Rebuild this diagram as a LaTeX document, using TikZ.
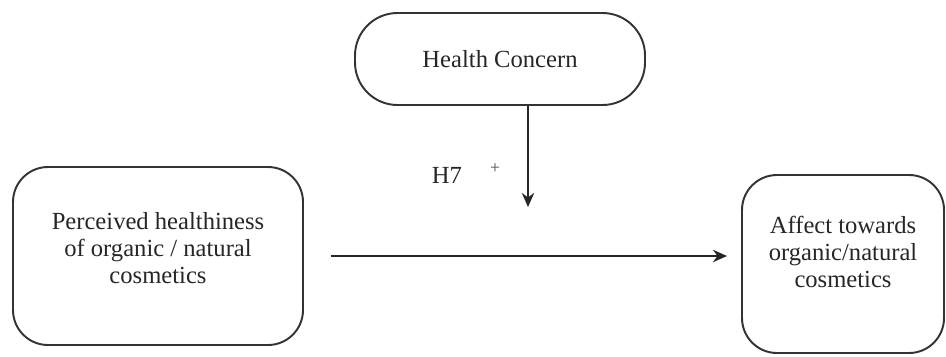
\documentclass[tikz,border=0pt]{standalone}
\usepackage{fontspec}
\setmainfont{Liberation Serif}
\usetikzlibrary{arrows.meta}
\begin{document}
\begin{tikzpicture}[x=1cm,y=1cm,
  box/.style={draw=black!80, line width=1.1pt, align=center, font=\fontsize{14}{15.5}\selectfont, text=black!85},
  arr/.style={-{Stealth[length=8pt,width=7pt]}, line width=1.4pt, black!85}]
\useasboundingbox (0,0) rectangle (18.92,-7.12);
\node[box, rounded corners=0.85cm, minimum width=5.8cm, minimum height=1.84cm] (hc) at (10.0,-1.18) {Health Concern};
\node[box, rounded corners=0.7cm, minimum width=5.8cm, minimum height=3.56cm, text depth=0.32cm] (perc) at (3.16,-5.12) {Perceived healthiness\\of organic / natural\\cosmetics};
\node[box, rounded corners=0.7cm, minimum width=4.04cm, minimum height=3.56cm, text depth=0.48cm] (aff) at (16.86,-5.28) {Affect towards\\organic/natural\\cosmetics};
\coordinate (mod) at (10.56,-4.14);
\node[font=\fontsize{14}{15}\selectfont, text=black!85] (h7) at (8.94,-3.5) {H7};
\node[font=\fontsize{10}{11}\selectfont, text=black!70] (plus) at (9.9,-3.38) {+};

\draw[arr] (hc.south -| mod) -- (mod);
\draw[arr, shorten <=0.54cm, shorten >=0.28cm] (perc.east) -- (perc.east -| aff.west);
\end{tikzpicture}
\end{document}
